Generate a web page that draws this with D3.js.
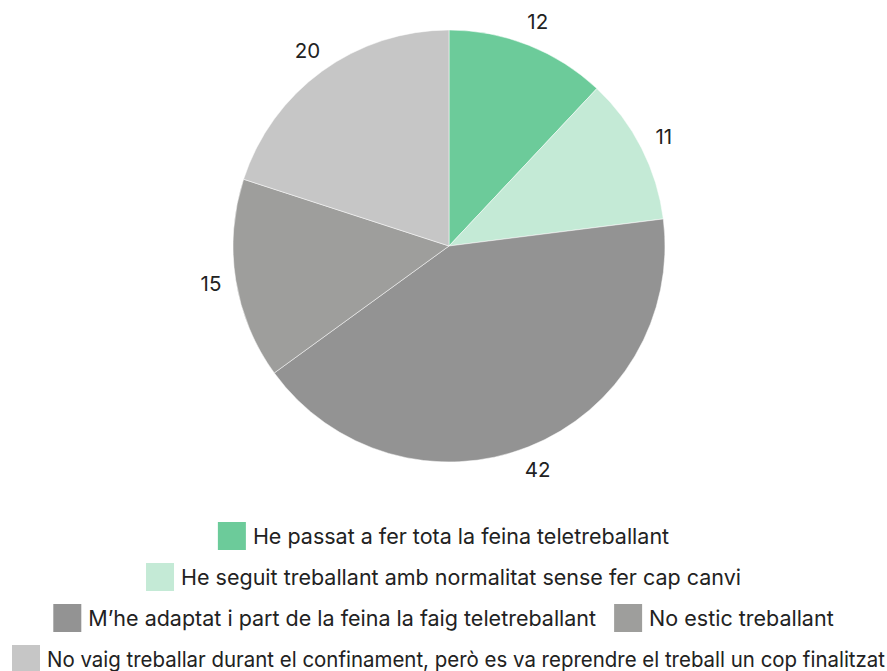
<!DOCTYPE html>
<html>
<head>
  <script src="https://d3js.org/d3.v7.min.js"></script>
  <style>
    body { margin: 0; background: #fff; font-family: Inter, "Noto Sans", sans-serif; }
  </style>
</head>
<body>
<div id="chart"></div>
<script>
  const categories = [
    "He passat a fer tota la feina teletreballant",
    "He seguit treballant amb normalitat sense fer cap canvi",
    "M\u2019he adaptat i part de la feina la faig teletreballant",
    "No estic treballant",
    "No vaig treballar durant el confinament, però es va reprendre el treball un cop finalitzat"
  ];
  const values = [12, 11, 42, 15, 20];
  const colors = ["#6ccb9a", "#c4ead6", "#939393", "#9e9e9c", "#c6c6c6"];

  const width = 887, height = 671;
  const cx = 449, cy = 246, radius = 216;
  const fontSize = "21.5px";

  const svg = d3.select("#chart").append("svg")
    .attr("width", width).attr("height", height);

  const data = categories.map((c, i) => ({ name: c, value: values[i], color: colors[i] }));

  const pie = d3.pie().sort(null).value(d => d.value);
  const arc = d3.arc().innerRadius(0).outerRadius(radius);
  const labelArc = d3.arc().innerRadius(radius + 25).outerRadius(radius + 25);

  const g = svg.append("g").attr("transform", `translate(${cx},${cy})`);
  const arcs = pie(data);

  g.selectAll("path")
    .data(arcs)
    .enter().append("path")
    .attr("d", arc)
    .attr("fill", d => d.data.color)
    .attr("stroke", "#fff")
    .attr("stroke-width", 0.5);

  g.selectAll("text.val")
    .data(arcs)
    .enter().append("text")
    .attr("class", "val")
    .attr("transform", d => `translate(${labelArc.centroid(d)})`)
    .attr("text-anchor", "middle")
    .attr("dy", "0.35em")
    .style("font-size", "20.5px")
    .attr("fill", "#222")
    .text(d => d.data.value);

  // legend: flowing, centred rows
  const box = 28, gap = 7, itemGap = 18, rowH = 41, legendTop = 522, maxW = width - 20;
  const legend = svg.append("g");
  const items = data.map(d => {
    const it = legend.append("g");
    it.append("rect").attr("width", box).attr("height", box).attr("fill", d.color);
    const t = it.append("text")
      .attr("x", box + gap).attr("y", box / 2).attr("dy", "0.35em")
      .style("font-size", fontSize).attr("fill", "#222")
      .text(d.name);
    let w = t.node().getComputedTextLength();
    let over = false;
    if (box + gap + w > width - 14) {
      w = width - 14 - box - gap;
      t.attr("textLength", w).attr("lengthAdjust", "spacingAndGlyphs");
      over = true;
    }
    return { it, w: box + gap + w, over };
  });

  const rows = [];
  let cur = [], curW = 0;
  items.forEach(item => {
    const add = cur.length ? itemGap + item.w : item.w;
    if (cur.length && curW + add > maxW) { rows.push({ items: cur, w: curW }); cur = []; curW = 0; }
    curW += cur.length ? itemGap + item.w : item.w;
    cur.push(item);
  });
  if (cur.length) rows.push({ items: cur, w: curW });

  rows.forEach((row, r) => {
    let x = row.items[0].over ? 12 : (width - row.w) / 2;
    row.items.forEach(item => {
      item.it.attr("transform", `translate(${x},${legendTop + r * rowH})`);
      x += item.w + itemGap;
    });
  });
</script>
</body>
</html>
